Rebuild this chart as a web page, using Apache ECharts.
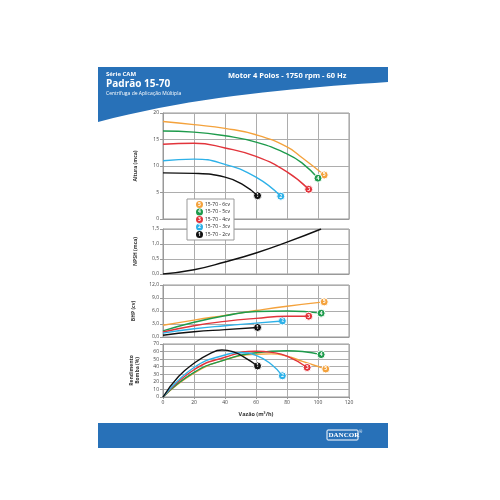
<!DOCTYPE html>
<html>
<head>
<meta charset="utf-8">
<script src="https://cdn.jsdelivr.net/npm/echarts@6/dist/echarts.min.js"></script>
<style>
  html, body { margin: 0; padding: 0; background: #fff; }
  #chart { width: 500px; height: 500px; }
</style>
</head>
<body>
<div id="chart"></div>
<script>
// curvas da bomba, vazão em m3/h
const pumps = ['15-70 - 6cv', '15-70 - 5cv', '15-70 - 4cv', '15-70 - 3cv', '15-70 - 2cv'];
const pumpNums = ['5', '4', '3', '2', '1'];
const pumpColors = ['#f4a23c', '#1e9b4c', '#e2343b', '#2eb1e8', '#111111'];

const alturaData = [
  [[0, 18.4], [20, 17.8], [40, 17.1], [60, 15.9], [80, 13.6], [90, 11.5], [104, 8.3]],
  [[0, 16.6], [20, 16.4], [40, 15.7], [60, 14.5], [80, 12.3], [90, 10.5], [100, 7.7]],
  [[0, 14.1], [20, 14.3], [40, 13.4], [60, 11.8], [80, 8.9], [94, 5.6]],
  [[0, 11.0], [20, 11.3], [40, 10.3], [60, 7.9], [76, 4.3]],
  [[0, 8.7], [20, 8.6], [40, 7.9], [52, 6.4], [61, 4.4]]
];
const npshData = [[0, 0], [20, 0.14], [40, 0.4], [60, 0.7], [80, 1.06], [102, 1.5]];
const bhpData = [
  [[0, 2.7], [20, 3.9], [40, 5.0], [60, 6.1], [80, 7.1], [104, 8.1]],
  [[0, 1.4], [20, 3.4], [40, 4.9], [60, 5.9], [80, 6.0], [102, 5.5]],
  [[0, 1.15], [20, 2.6], [40, 3.6], [60, 4.3], [80, 4.8], [94, 4.8]],
  [[0, 0.9], [20, 1.9], [40, 2.6], [60, 3.2], [77, 3.7]],
  [[0, 0.4], [20, 1.2], [40, 1.7], [61, 2.2]]
];
const rendData = [
  [[0, 0], [20, 31.5], [40, 49], [60, 56.5], [70, 57], [80, 54], [90, 47], [105, 37]],
  [[0, 0], [20, 32.5], [40, 49], [60, 58.5], [80, 61], [90, 60], [102, 56]],
  [[0, 0], [20, 36], [40, 52.5], [60, 60.5], [70, 59], [80, 54], [93, 39]],
  [[0, 0], [20, 39], [40, 55.5], [50, 58.5], [60, 55], [70, 43], [77, 28]],
  [[0, 0], [10, 27], [20, 44.5], [30, 57], [38, 62], [45, 60], [52, 53], [61, 41]]
];
const xTicks = [0, 120, 20];

const blue = '#2871b8';
const gridColor = '#adadad';
const font = 'Open Sans';

let chart = echarts.init(document.getElementById('chart'));

// 4 graficos empilhados
const grids = [
  { left: 163, width: 186, top: 113, height: 106 },
  { left: 163, width: 186, top: 229, height: 45 },
  { left: 163, width: 186, top: 285, height: 52 },
  { left: 163, width: 186, top: 344, height: 53 }
].map(g => Object.assign(g, { show: true, borderColor: '#999', borderWidth: 1, backgroundColor: '#fff' }));

function xAx(i) {
  return {
    gridIndex: i, type: 'value', min: xTicks[0], max: xTicks[1], interval: xTicks[2],
    axisLine: { lineStyle: { color: '#999' } },
    axisTick: { show: i == 3, length: 2, lineStyle: { color: '#999' } },
    axisLabel: { show: i == 3, fontSize: 5, color: '#444', margin: 3, fontFamily: font },
    splitLine: { show: true, lineStyle: { color: gridColor, width: 1 } },
    name: i == 3 ? 'Vazão (m³/h)' : '',
    nameLocation: 'middle', nameGap: 14,
    nameTextStyle: { fontSize: 5.5, fontWeight: 'bold', color: '#333', fontFamily: font }
  };
}

function yAx(i, name, max, interval, dec, gap) {
  return {
    gridIndex: i, type: 'value', min: 0, max: max, interval: interval,
    name: name, nameLocation: 'middle', nameGap: gap,
    nameTextStyle: { fontSize: 5, fontWeight: 'bold', color: '#333', fontFamily: font, lineHeight: 6 },
    axisLine: { show: true, lineStyle: { color: '#999' } },
    axisTick: { show: true, length: 3, lineStyle: { color: '#999' } },
    axisLabel: {
      fontSize: 5, color: '#444', margin: 4, fontFamily: font,
      formatter: v => dec ? v.toFixed(1).replace('.', ',') : v
    },
    splitLine: { show: true, lineStyle: { color: gridColor, width: 1 } }
  };
}

function endMark(data, k) {
  return {
    symbol: 'circle', symbolSize: 8, silent: true,
    itemStyle: { color: pumpColors[k], borderColor: '#fff', borderWidth: 1 },
    label: { show: true, formatter: pumpNums[k], color: '#fff', fontSize: 5, fontWeight: 'bold', fontFamily: font },
    data: [{ coord: data[data.length - 1] }]
  };
}

let series = [];
[alturaData, bhpData, rendData].forEach((set, idx) => {
  let ax = [0, 2, 3][idx];
  set.forEach((d, k) => {
    series.push({
      name: pumps[k], type: 'line', xAxisIndex: ax, yAxisIndex: ax,
      data: d, smooth: 0.5, symbol: 'none',
      lineStyle: { color: pumpColors[k], width: 1.4 },
      itemStyle: { color: pumpColors[k] },
      markPoint: endMark(d, k),
      z: 3 + k
    });
  });
});
series.push({
  name: 'NPSH', type: 'line', xAxisIndex: 1, yAxisIndex: 1,
  data: npshData, smooth: 0.5, symbol: 'none',
  lineStyle: { color: '#111', width: 1.4 }
});

let rich = {};
pumpColors.forEach((c, k) => {
  rich['n' + k] = {
    backgroundColor: c, color: '#fff', borderRadius: 3.5, width: 7, height: 7,
    align: 'center', fontSize: 5, fontWeight: 'bold', lineHeight: 7, fontFamily: font
  };
});
rich.t = { fontSize: 5, color: '#222', padding: [0, 0, 0, 2], fontFamily: font };

// faixa azul do topo com borda inferior curva
let wave = [[98, 67], [388, 67], [388, 82]];
for (let t = 0.05; t <= 1.0001; t += 0.05) {
  let a = (1 - t) ** 3, b = 3 * (1 - t) ** 2 * t, c = 3 * (1 - t) * t * t, d = t ** 3;
  wave.push([a * 388 + b * 300 + c * 200 + d * 98, a * 82 + b * 88 + c * 95 + d * 122]);
}

let option = {
  animation: false,
  backgroundColor: '#fff',
  grid: grids,
  xAxis: [0, 1, 2, 3].map(xAx),
  yAxis: [
    yAx(0, 'Altura (mca)', 20, 5, false, 24),
    yAx(1, 'NPSH (mca)', 1.5, 0.5, true, 24),
    yAx(2, 'BHP (cv)', 12, 3, true, 26),
    yAx(3, 'Rendimento\nBomba (%)', 70, 10, false, 22)
  ],
  legend: {
    data: pumps, orient: 'vertical', left: 187, top: 199,
    itemWidth: 0, itemHeight: 0, itemGap: 0.5,
    backgroundColor: '#fff', borderColor: '#999', borderWidth: 1, padding: [2, 4, 2, 3],
    selectedMode: false,
    formatter: name => {
      let k = pumps.indexOf(name);
      return '{n' + k + '|' + pumpNums[k] + '}{t|' + name + '}';
    },
    textStyle: { rich: rich }
  },
  series: series,
  graphic: [
    {
      type: 'polygon', z: 10,
      shape: { points: wave },
      style: { fill: blue }
    },
    { type: 'text', left: 106, top: 71, z: 11,
      style: { text: 'Série CAM', fill: '#fff', fontSize: 6, fontWeight: 'bold', fontFamily: font } },
    { type: 'text', left: 106, top: 79, z: 11,
      style: { text: 'Padrão 15-70', fill: '#fff', fontSize: 10, fontWeight: 'bold', fontFamily: font } },
    { type: 'text', left: 106, top: 91, z: 11,
      style: { text: 'Centrífuga de Aplicação Múltipla', fill: '#fff', fontSize: 5, fontFamily: font } },
    { type: 'text', left: 228, top: 72, z: 11,
      style: { text: 'Motor 4 Polos - 1750 rpm - 60 Hz', fill: '#fff', fontSize: 7.5, fontWeight: 'bold', fontFamily: font } },
    {
      type: 'rect', z: 10,
      shape: { x: 98, y: 423, width: 290, height: 25 },
      style: { fill: blue }
    },
    {
      type: 'rect', z: 11,
      shape: { x: 327, y: 430, width: 31, height: 10, r: 1 },
      style: { fill: blue, stroke: '#fff', lineWidth: 1 }
    },
    { type: 'text', left: 328.5, top: 431.5, z: 12,
      style: { text: 'DANCOR', fill: '#fff', fontSize: 7, fontWeight: 'bold', fontFamily: 'Liberation Serif' } },
    { type: 'text', left: 359, top: 430, z: 12,
      style: { text: '®', fill: '#fff', fontSize: 4, fontFamily: font } }
  ]
};

chart.setOption(option);
</script>
</body>
</html>
